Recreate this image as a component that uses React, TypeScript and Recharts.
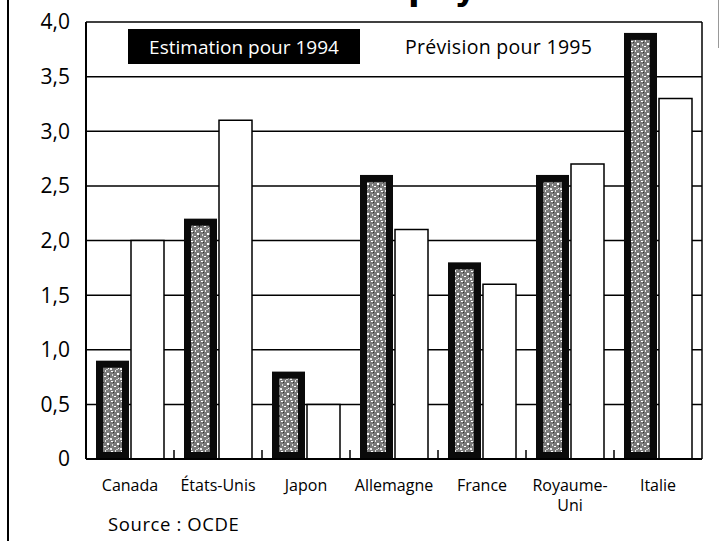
import React from 'react';
import { BarChart, Bar, XAxis, YAxis, CartesianGrid, Legend } from 'recharts';

const categories = ['Canada', 'États-Unis', 'Japon', 'Allemagne', 'France', 'Royaume-Uni', 'Italie'];
const estimation1994 = [0.9, 2.2, 0.8, 2.6, 1.8, 2.6, 3.9];
const prevision1995 = [2.0, 3.1, 0.5, 2.1, 1.6, 2.7, 3.3];
const yTicks = [0, 0.5, 1, 1.5, 2, 2.5, 3, 3.5, 4];
const yTickLabels = ['0', '0,5', '1,0', '1,5', '2,0', '2,5', '3,0', '3,5', '4,0'];
const seriesNames = ['Estimation pour 1994', 'Prévision pour 1995'];

const data = categories.map((c, i) => ({ name: c, e94: estimation1994[i], p95: prevision1995[i] }));

const W = 722;
const H = 541;
const X_H = 82;
const M = { top: 22, right: 20, left: 0, bottom: 0 };
const Y_W = 86;
const FONT = '"Open Sans", "DejaVu Sans", sans-serif';

const DarkBar = (props: any) => {
  const { x, y, width, height } = props;
  if (!height || height <= 0) return null;
  const inset = 7;
  return (
    <g>
      <rect x={x} y={y} width={width} height={height} fill="#0a0a0a" />
      {width > 2 * inset && height > 2 * inset && (
        <rect x={x + inset} y={y + inset} width={width - 2 * inset} height={height - 2 * inset} fill="url(#speckle)" />
      )}
    </g>
  );
};

const XTick = (props: any) => {
  const { x, y, payload, index } = props;
  const label: string = payload.value;
  const plotW = W - M.left - M.right - Y_W;
  const half = payload.offset ?? plotW / categories.length / 2;
  let lines = [label];
  if (label.length > 10 && label.includes('-')) {
    const k = label.indexOf('-');
    lines = [label.slice(0, k + 1), label.slice(k + 1)];
  }
  return (
    <g>
      {index < categories.length - 1 && (
        <line x1={x + half} x2={x + half} y1={y} y2={y - 9} stroke="#000" strokeWidth={1.5} />
      )}
      <text x={x} y={y + 32} textAnchor="middle" fontSize={16} fontFamily={FONT} fill="#000">
        {lines.map((l, i) => (
          <tspan key={i} x={x} dy={i === 0 ? 0 : 20}>{l}</tspan>
        ))}
      </text>
    </g>
  );
};

const LegendContent = (props: any) => {
  const payload = props.payload || [];
  const n0 = payload[0]?.value ?? seriesNames[0];
  const n1 = payload[1]?.value ?? seriesNames[1];
  return (
    <div style={{ display: 'flex', alignItems: 'center', fontFamily: FONT }}>
      <div
        style={{
          background: '#000',
          color: '#fff',
          width: 232,
          height: 35,
          display: 'flex',
          alignItems: 'center',
          justifyContent: 'center',
          fontSize: 19,
        }}
      >
        {n0}
      </div>
      <div style={{ marginLeft: 45, fontSize: 19.5, color: '#000', letterSpacing: 0.3 }}>{n1}</div>
    </div>
  );
};

export default function App() {
  return (
    <div style={{ position: 'absolute', left: 0, top: 0, width: W, height: H, background: '#fff', overflow: 'hidden' }}>
      <svg width={0} height={0} style={{ position: 'absolute' }}>
        <defs>
          <pattern id="speckle" width={10} height={10} patternUnits="userSpaceOnUse">
            <rect width={10} height={10} fill="#7a7a7a" />
            <rect x={1} y={1} width={2} height={1} fill="#ffffff" />
            <rect x={5} y={0} width={1} height={2} fill="#e8e8e8" />
            <rect x={7} y={3} width={2} height={2} fill="#ffffff" />
            <rect x={2} y={4} width={1} height={2} fill="#d8d8d8" />
            <rect x={4} y={6} width={2} height={1} fill="#ffffff" />
            <rect x={0} y={8} width={2} height={2} fill="#f0f0f0" />
            <rect x={8} y={8} width={1} height={1} fill="#ffffff" />
            <rect x={6} y={9} width={2} height={1} fill="#c8c8c8" />
            <rect x={3} y={2} width={1} height={1} fill="#333" />
            <rect x={9} y={5} width={1} height={2} fill="#333" />
          </pattern>
        </defs>
      </svg>
      <div
        style={{
          position: 'absolute',
          left: 408,
          top: -32,
          fontFamily: '"DejaVu Sans", sans-serif',
          fontWeight: 'bold',
          fontSize: 34,
          lineHeight: '40px',
          color: '#000',
          whiteSpace: 'nowrap',
        }}
      >
        pays
      </div>
      <div style={{ position: 'absolute', left: 7, top: 0, width: 2, height: H, background: '#000' }} />
      <div style={{ position: 'absolute', left: 718, top: 0, width: 1, height: 48, background: '#999' }} />
      <BarChart width={W} height={H} data={data} margin={M} barCategoryGap={10} barGap={2}>
        <CartesianGrid
          stroke="#000"
          strokeWidth={1.5}
          vertical={true}
          verticalCoordinatesGenerator={(p: any) => [p.offset.left + p.offset.width]}
        />
        <XAxis
          dataKey="name"
          tickLine={false}
          tickSize={0}
          tickMargin={0}
          interval={0}
          axisLine={{ stroke: '#000', strokeWidth: 2 }}
          tick={<XTick />}
          height={X_H}
        />
        <YAxis
          width={Y_W}
          domain={[0, 4]}
          ticks={yTicks}
          interval={0}
          tickLine={false}
          tickSize={0}
          tickMargin={16}
          axisLine={{ stroke: '#000', strokeWidth: 2 }}
          tick={{ fontSize: 21, fill: '#000', fontFamily: FONT }}
          tickFormatter={(v: number) => yTickLabels[yTicks.indexOf(v)] ?? String(v)}
        />
        <Legend
          layout="horizontal"
          verticalAlign="middle"
          align="center"
          content={<LegendContent />}
          wrapperStyle={{ position: 'absolute', left: 128, top: 29, width: 540 }}
        />
        <Bar dataKey="e94" name={seriesNames[0]} shape={<DarkBar />} isAnimationActive={false} />
        <Bar dataKey="p95" name={seriesNames[1]} fill="#fff" stroke="#000" strokeWidth={1.5} isAnimationActive={false} />
      </BarChart>
      <div
        style={{
          position: 'absolute',
          left: 108,
          top: 511,
          fontFamily: FONT,
          fontSize: 18.5,
          letterSpacing: 0.6,
          color: '#000',
          whiteSpace: 'nowrap',
        }}
      >
        Source : OCDE
      </div>
    </div>
  );
}
